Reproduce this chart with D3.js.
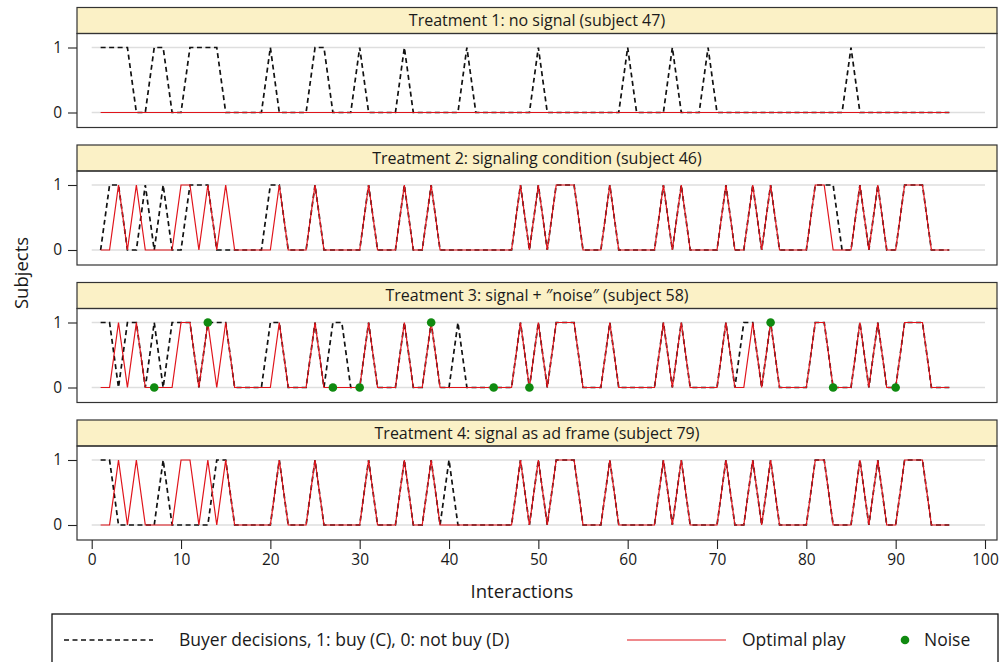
<!DOCTYPE html>
<html><head><meta charset="utf-8">
<script src="https://cdn.jsdelivr.net/npm/d3@7"></script>
<style>
body{margin:0;background:#fff}
text{font-family:"Open Sans",sans-serif;fill:#1a1a1a}
</style>
</head><body><svg id="c" width="1002" height="662"></svg>
<script>
const interactions = [1,2,3,4,5,6,7,8,9,10,11,12,13,14,15,16,17,18,19,20,21,22,23,24,25,26,27,28,29,30,31,32,33,34,35,36,37,38,39,40,41,42,43,44,45,46,47,48,49,50,51,52,53,54,55,56,57,58,59,60,61,62,63,64,65,66,67,68,69,70,71,72,73,74,75,76,77,78,79,80,81,82,83,84,85,86,87,88,89,90,91,92,93,94,95,96];

const panelTitles = [
  "Treatment 1: no signal (subject 47)",
  "Treatment 2: signaling condition (subject 46)",
  "Treatment 3: signal + \u2033noise\u2033 (subject 58)",
  "Treatment 4: signal as ad frame (subject 79)"
];

// Optimal play
const optimalT1 = [0,0,0,0,0,0,0,0,0,0, 0,0,0,0,0,0,0,0,0,0, 0,0,0,0,0,0,0,0,0,0, 0,0,0,0,0,0,0,0,0,0, 0,0,0,0,0,0,0,0,0,0, 0,0,0,0,0,0,0,0,0,0, 0,0,0,0,0,0,0,0,0,0, 0,0,0,0,0,0,0,0,0,0, 0,0,0,0,0,0,0,0,0,0, 0,0,0,0,0,0];
const optimalSignal = [0,0,1,0,1,0,0,0,0,1, 1,0,1,0,1,0,0,0,0,0, 1,0,0,0,1,0,0,0,0,0, 1,0,0,0,1,0,0,1,0,0, 0,0,0,0,0,0,0,1,0,1, 0,1,1,1,0,0,0,1,0,0, 0,0,0,1,0,1,0,0,0,0, 1,0,0,1,0,1,0,0,0,0, 1,1,0,0,0,1,0,1,0,0, 1,1,1,0,0,0];

// Buyer decisions, 1: buy (C), 0: not buy (D)
const buyerT1 = [1,1,1,1,0,0,1,1,0,0, 1,1,1,1,0,0,0,0,0,1, 0,0,0,0,1,1,0,0,0,1, 0,0,0,0,1,0,0,0,0,0, 0,1,0,0,0,0,0,0,0,1, 0,0,0,0,0,0,0,0,0,1, 0,0,0,0,1,0,0,0,1,0, 0,0,0,0,0,0,0,0,0,0, 0,0,0,0,1,0,0,0,0,0, 0,0,0,0,0,0];
const buyerT2 = [0,1,1,0,0,1,0,1,0,0, 1,1,1,0,0,0,0,0,0,1, 1,0,0,0,1,0,0,0,0,0, 1,0,0,0,1,0,0,1,0,0, 0,0,0,0,0,0,0,1,0,1, 0,1,1,1,0,0,0,1,0,0, 0,0,0,1,0,1,0,0,0,0, 1,0,0,1,0,1,0,0,0,0, 1,1,1,0,0,1,0,1,0,0, 1,1,1,0,0,0];
const buyerT3 = [1,1,0,1,1,0,1,0,1,1, 1,0,1,1,1,0,0,0,0,1, 1,0,0,0,1,0,1,1,0,0, 1,0,0,0,1,0,0,1,0,0, 1,0,0,0,0,0,0,1,0,1, 0,1,1,1,0,0,0,1,0,0, 0,0,0,1,0,1,0,0,0,0, 1,0,1,1,0,1,0,0,0,0, 1,1,0,0,0,1,0,1,0,0, 1,1,1,0,0,0];
const buyerT4 = [1,1,0,0,0,0,0,1,0,0, 0,0,0,1,1,0,0,0,0,0, 1,0,0,0,1,0,0,0,0,0, 1,0,0,0,1,0,0,1,0,1, 0,0,0,0,0,0,0,1,0,1, 0,1,1,1,0,0,0,1,0,0, 0,0,0,1,0,1,0,0,0,0, 1,0,0,1,0,1,0,0,0,0, 1,1,0,0,0,1,0,1,0,0, 1,1,1,0,0,0];

// Noise (treatment 3)
const noiseInteractions = [7,13,27,30,38,45,49,76,83,90];
const noiseValues = [0,1,0,0,1,0,0,1,0,0];

const xTicks = [0,10,20,30,40,50,60,70,80,90,100];
const yTicks = [0,1];

const legendLabels = ["Buyer decisions, 1: buy (C), 0: not buy (D)", "Optimal play", "Noise"];

const svg = d3.select("#c");
const C_BLACK = "#111", C_RED = "#e0141b", C_GREEN = "#108a10", C_HEAD = "#fbf1c6";
const x = d3.scaleLinear().domain([0,100]).range([91.7,985]);
const frameL = 77, frameR = 997;
const panelTops = [7.5,145,282.5,420];
const headerH = 26, plotH = 94;

const panels = [
  {buyer: buyerT1, optimal: optimalT1, noise: null},
  {buyer: buyerT2, optimal: optimalSignal, noise: null},
  {buyer: buyerT3, optimal: optimalSignal, noise: {xs: noiseInteractions, ys: noiseValues}},
  {buyer: buyerT4, optimal: optimalSignal, noise: null}
];

panels.forEach((p,k)=>{
  const top = panelTops[k], hb = top + headerH;
  const y = d3.scaleLinear().domain([0,1]).range([hb+79, hb+14]);
  const g = svg.append("g");

  g.selectAll("line.grid").data(yTicks).join("line")
    .attr("x1", x(0)).attr("x2", x(100))
    .attr("y1", d=>y(d)).attr("y2", d=>y(d))
    .attr("stroke","#dedede").attr("stroke-width",1.5);

  const ay = g.append("g").attr("transform",`translate(${frameL},0)`)
    .call(d3.axisLeft(y).tickValues(yTicks).tickSize(9).tickPadding(6).tickFormat(d3.format("d")));
  ay.select(".domain").remove();
  ay.selectAll(".tick line").attr("stroke","#222").attr("stroke-width",1.1);
  ay.selectAll(".tick text").attr("font-size",15.5).attr("font-family","Open Sans, sans-serif").attr("fill","#1a1a1a");

  const line = d3.line().x((d,i)=>x(interactions[i])).y(d=>y(d));
  g.append("path").datum(p.buyer).attr("d",line).attr("fill","none")
    .attr("stroke",C_BLACK).attr("stroke-width",1.7).attr("stroke-dasharray","5,3.5");
  g.append("path").datum(p.optimal).attr("d",line).attr("fill","none")
    .attr("stroke",C_RED).attr("stroke-width",1.2);

  if (p.noise) {
    g.selectAll("circle").data(p.noise.xs).join("circle")
      .attr("cx", d=>x(d)).attr("cy", (d,i)=>y(p.noise.ys[i])).attr("r",4.3)
      .attr("fill",C_GREEN);
  }

  g.append("rect").attr("x",frameL).attr("y",top).attr("width",frameR-frameL).attr("height",headerH)
    .attr("fill",C_HEAD).attr("stroke","#333").attr("stroke-width",1.2);
  g.append("text").attr("x",(frameL+frameR)/2).attr("y",top+headerH/2+5.5)
    .attr("text-anchor","middle").attr("font-size",16).text(panelTitles[k]);
  g.append("rect").attr("x",frameL).attr("y",hb).attr("width",frameR-frameL).attr("height",plotH)
    .attr("fill","none").attr("stroke","#333").attr("stroke-width",1.2);

  if (k === 3) {
    const ax = g.append("g").attr("transform",`translate(0,${hb+plotH})`)
      .call(d3.axisBottom(x).tickValues(xTicks).tickSize(9).tickPadding(5).tickFormat(d3.format("d")));
    ax.select(".domain").remove();
    ax.selectAll(".tick line").attr("stroke","#222").attr("stroke-width",1.1);
    ax.selectAll(".tick text").attr("font-size",15.5).attr("font-family","Open Sans, sans-serif").attr("fill","#1a1a1a");
  }
});

svg.append("text").attr("x",522).attr("y",598).attr("text-anchor","middle")
  .attr("font-size",18.5).text("Interactions");
svg.append("text").attr("transform","translate(28,273) rotate(-90)").attr("text-anchor","middle")
  .attr("font-size",18.5).text("Subjects");

const lg = svg.append("g");
lg.append("rect").attr("x",52).attr("y",614).attr("width",946).attr("height",60)
  .attr("fill","#fff").attr("stroke","#111").attr("stroke-width",1.3);
const ly = 640;
lg.append("line").attr("x1",64).attr("x2",153).attr("y1",ly).attr("y2",ly)
  .attr("stroke",C_BLACK).attr("stroke-width",1.7).attr("stroke-dasharray","5,3.5");
lg.append("text").attr("x",179).attr("y",ly+6).attr("font-size",17.5).text(legendLabels[0]);
lg.append("line").attr("x1",627).attr("x2",726).attr("y1",ly).attr("y2",ly)
  .attr("stroke",C_RED).attr("stroke-width",1.2);
lg.append("text").attr("x",742).attr("y",ly+6).attr("font-size",17.5).text(legendLabels[1]);
lg.append("circle").attr("cx",905).attr("cy",ly).attr("r",4.3).attr("fill",C_GREEN);
lg.append("text").attr("x",924).attr("y",ly+6).attr("font-size",17.5).text(legendLabels[2]);
</script>
</body></html>
